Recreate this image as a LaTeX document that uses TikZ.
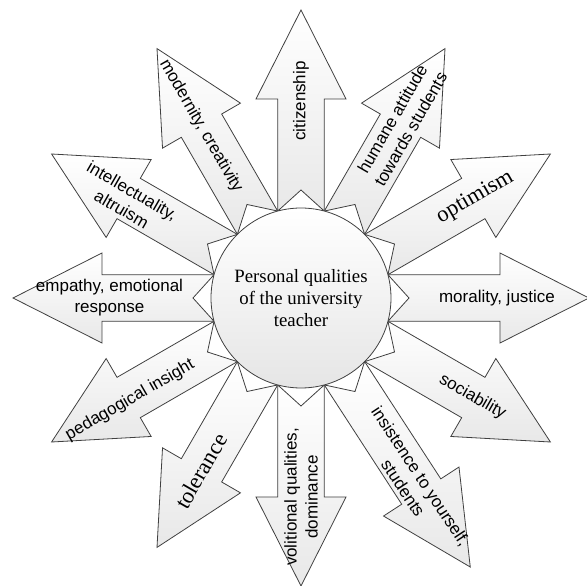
\documentclass[tikz,border=0pt]{standalone}
\usepackage{fontspec}
\setmainfont{Liberation Serif}
\newfontfamily\arialf{Liberation Sans}
\begin{document}
\begin{tikzpicture}[x=1pt,y=1pt,
  qarrow/.style={draw=black!75, line width=0.8pt, top color=white, bottom color=black!9, line join=miter},
  slabel/.style={font=\arialf\fontsize{17}{21}\selectfont, align=center, inner sep=0pt},
  rlabel/.style={font=\fontsize{22.5}{26}\selectfont, inner sep=0pt},
  hub/.style={circle, draw=black!75, line width=0.8pt, minimum size=180pt, inner sep=0pt,
    top color=white, bottom color=black!10, align=center, font=\fontsize{18.8}{22}\selectfont}]

\useasboundingbox (-301,-288) rectangle (286,298);

% regular arrows
\foreach \a in {0,30,...,270,330} {
  \begin{scope}[rotate=\a]
    \path[qarrow] (86.93,23.29) -- (199,23.29) -- (199,45) -- (288,0) -- (199,-45)
      -- (199,-23.29) -- (86.93,-23.29) -- (108,0) -- cycle;
  \end{scope}
}

% longer, slightly turned arrow (insistence)
\begin{scope}[rotate=300]
  \coordinate (iA) at (86.93,23.29);
  \coordinate (iB) at (86.93,-23.29);
  \coordinate (iN) at (108,0);
  \begin{scope}[shift={(86.93,0)}, rotate=3]
    \coordinate (i1) at (141,23.29);
    \coordinate (i2) at (141,45);
    \coordinate (i3) at (231,0);
    \coordinate (i4) at (141,-45);
    \coordinate (i5) at (141,-23.29);
  \end{scope}
\end{scope}
\path[qarrow] (iA) -- (i1) -- (i2) -- (i3) -- (i4) -- (i5) -- (iB) -- (iN) -- cycle;

% hub
\node[hub] (hub) at (0,0) {Personal qualities\\of the university\\teacher};

% labels
\node[slabel, rotate=90] (citz) at (90:197) {citizenship};
\node[slabel, rotate=60] (hum) at (60:201) {humane attitude\\towards students};
\node[rlabel, rotate=30] (opt) at (30:201) {optimism};
\node[slabel] (mor) at (0:196) {morality, justice};
\node[slabel, rotate=-30] (soc) at (-30:198) {sociability};
\node[slabel, rotate=-56.5] (ins) at (-58.9:215) {insistence to yourself,\\students};
\node[slabel, rotate=90] (vol) at (270:199) {volitional qualities,\\dominance};
\node[rlabel, rotate=60] (tol) at (240:200) {tolerance};
\node[slabel, rotate=30] (ped) at (210.8:199) {pedagogical insight};
\node[slabel] (emp) at (180:191.5) {empathy, emotional\\response};
\node[slabel, rotate=-30] (int) at (150.6:199.7) {intellectuality,\\altruism};
\node[slabel, rotate=-60] (mod) at (120.2:199) {modernity, creativity};
\end{tikzpicture}
\end{document}
